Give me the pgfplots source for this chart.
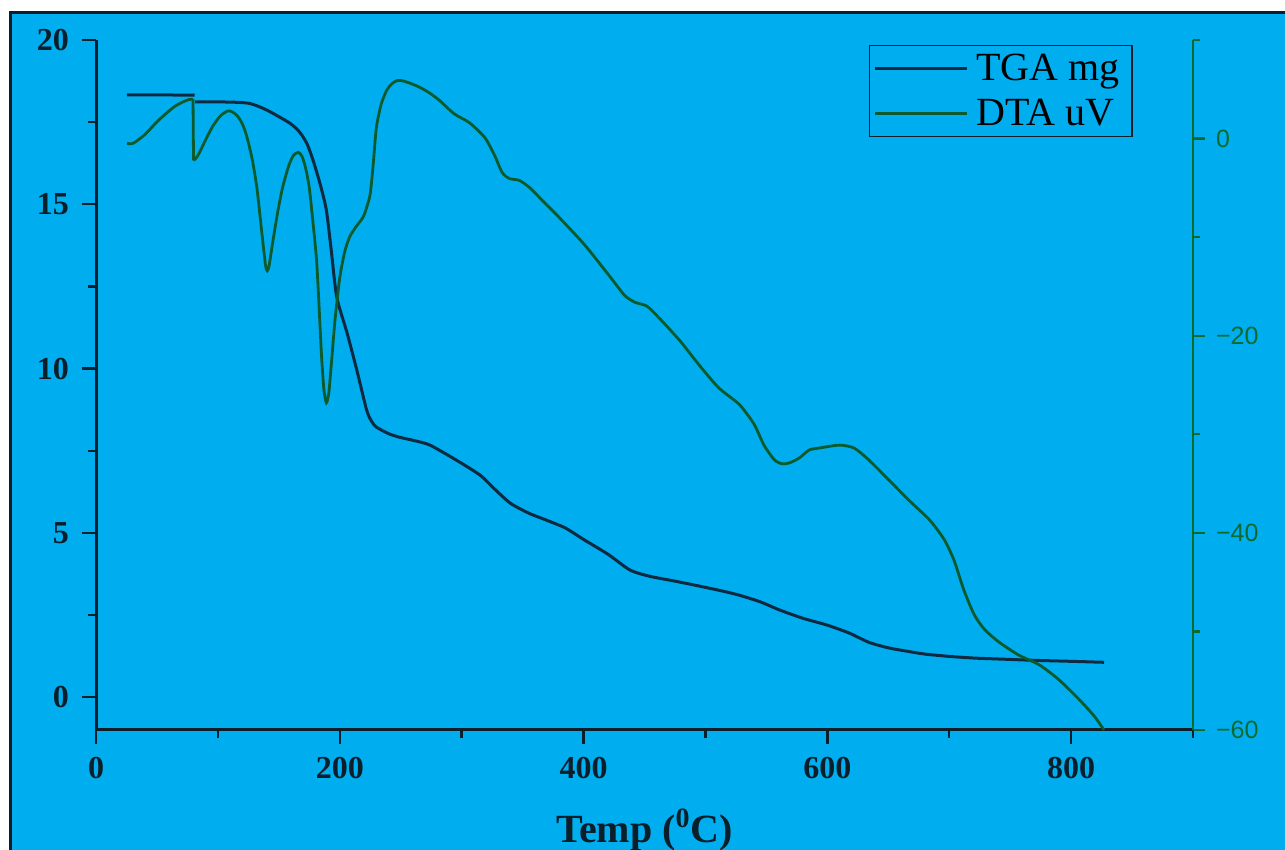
\documentclass[border=0pt]{standalone}
\usepackage{fontspec}
\setmainfont{Liberation Serif}
\newfontfamily\arialfont{Liberation Sans}
\usepackage{pgfplots}
\pgfplotsset{compat=1.18}
\definecolor{bgCyan}{HTML}{00AEEF}
\definecolor{frameInk}{HTML}{0A1F2A}
\definecolor{tgaInk}{HTML}{0E2A40}
\definecolor{dtaGreen}{HTML}{0D5A2C}
\definecolor{axGreen}{HTML}{0B6A2E}

% TGA, before and after the small step at 81 C
\pgfplotstableread{
x y
25.4 18.33
50 18.33
81 18.32
}\tgaA
\pgfplotstableread{
x y
81.2 18.12
110 18.11
126 18.07
140 17.87
159 17.47
167 17.20
173 16.85
178 16.35
184 15.60
189 14.82
193 13.60
197.5 12.18
206 11.08
214 9.95
222 8.74
226 8.40
230 8.22
240 8.02
249 7.91
262 7.80
274 7.67
294 7.25
315 6.76
328 6.30
340 5.90
355 5.60
370 5.38
385 5.15
400 4.80
420 4.35
438 3.87
454 3.68
475 3.53
495 3.38
515 3.22
528 3.10
545 2.90
561 2.65
580 2.40
600 2.19
618 1.95
634 1.67
650 1.50
665 1.40
680 1.31
700 1.24
720 1.19
741 1.16
770 1.12
800 1.09
827 1.06
}\tgaB

% DTA, before and after the sharp drop at 80 C
\pgfplotstableread{
x y
25.4 -0.50
30 -0.50
35 -0.10
40 0.40
44 0.90
50 1.70
58 2.60
65 3.30
71 3.70
76 3.95
79.5 4.00
}\dtaA
\pgfplotstableread{
x y
79.6 4.00
80 -2.20
}\dtaStep
\pgfplotstableread{
x y
80 -2.20
82 -2.00
85 -1.40
90 -0.10
96 1.30
102 2.30
108 2.80
112 2.70
116 2.30
120 1.50
123.5 0.30
128 -2.00
132 -5.00
136 -9.50
139 -12.80
140.5 -13.40
142 -12.90
145 -10.50
149 -7.50
153 -5.00
158 -2.80
162 -1.70
166 -1.40
169 -1.80
172 -3.00
175 -5.00
178 -8.50
181 -12.40
183 -17.00
185 -22.00
187 -25.50
189 -26.80
191 -25.80
193 -23.00
196 -18.50
200 -14.10
204 -11.50
208 -10.00
213 -9.00
219 -8.00
222 -7.00
225 -5.60
227.5 -2.50
230 1.10
234 3.50
238.5 4.90
243 5.60
247.5 5.90
252 5.85
258 5.60
265.6 5.20
274 4.60
282 3.85
294 2.50
306.5 1.60
319 0.10
327 -1.70
333 -3.40
339 -4.05
347.5 -4.25
356 -5.00
364 -6.00
380 -8.00
401 -10.80
421 -13.90
433.6 -15.90
442 -16.60
452 -17.00
462 -18.20
479 -20.50
495 -23.00
511 -25.30
528 -27.00
540 -29.00
548 -31.10
556.6 -32.60
563 -33.00
569 -32.90
577 -32.40
585 -31.60
593 -31.40
610 -31.10
622 -31.40
634 -32.60
651 -34.70
667 -36.70
684 -38.70
696 -40.70
704 -42.80
712 -45.80
720.5 -48.30
729 -49.80
741 -51.10
757 -52.40
774 -53.40
790 -54.90
806.6 -56.90
819 -58.60
827 -60.00
}\dtaB

\begin{document}
\begin{tikzpicture}
  \useasboundingbox (0,0) rectangle (642.5pt,425pt);
  \fill[white] (0,0) rectangle (642.5pt,425pt);
  \fill[bgCyan] (5pt,0) rectangle (642.5pt,418.5pt);
  \draw[frameInk, line width=1.5pt] (5pt,0) -- (5pt,418.5pt) -- (642.5pt,418.5pt);

  \begin{axis}[
    at={(48pt,60pt)}, anchor=south west,
    scale only axis, width=548.5pt, height=345pt,
    xmin=0, xmax=900, ymin=-1, ymax=20,
    axis x line*=bottom, axis y line*=left,
    axis line style={draw=frameInk, line width=1.5pt},
    tick style={draw=frameInk, line width=1.2pt},
    tick align=outside,
    major tick length=7pt, minor tick length=4pt,
    xtick={0,200,...,800}, minor xtick={100,300,500,700,900},
    ytick={0,5,...,20}, minor ytick={2.5,7.5,12.5,17.5},
    /pgf/number format/assume math mode=true,
    ticklabel style={font=\fontsize{16}{16}\selectfont\bfseries, text=frameInk},
    xticklabel style={yshift=-3pt},
    yticklabel style={xshift=-3pt},
    xlabel={Temp (\textsuperscript{0}C)},
    xlabel style={at={(axis description cs:0.5,0)}, anchor=center, yshift=-50pt,
      font=\fontsize{20}{20}\selectfont\bfseries, text=frameInk},
    clip=false
  ]
    \addplot[tgaInk, line width=1.5pt, no markers] table[x=x,y=y] {\tgaA};
    \addplot[tgaInk, line width=1.5pt, no markers, smooth, tension=0.4] table[x=x,y=y] {\tgaB};
  \end{axis}

  \begin{axis}[
    at={(48pt,60pt)}, anchor=south west,
    scale only axis, width=548.5pt, height=345pt,
    xmin=0, xmax=900, ymin=-60, ymax=10,
    axis x line=none, axis y line*=right,
    axis line style={draw=axGreen, line width=1.2pt},
    tick style={draw=axGreen, line width=1.2pt},
    tick align=outside,
    major tick length=6pt, minor tick length=3.5pt,
    ytick={-60,-40,-20,0}, yticklabels={−60,−40,−20,0},
    minor ytick={-50,-30,-10,10},
    ticklabel style={font=\arialfont\fontsize{12.5}{12.5}\selectfont, text=axGreen},
    yticklabel style={xshift=2pt},
    legend style={at={(0.945,0.993)}, anchor=north east,
      draw=frameInk, line width=0.8pt, fill=none,
      font=\fontsize{20}{22}\selectfont, text=black,
      inner xsep=2pt, inner ysep=2pt, row sep=4pt,
      nodes={inner xsep=4pt}},
    legend cell align=left,
    legend image code/.code={\draw[#1] (0pt,0pt) -- (46pt,0pt);},
    clip=false
  ]
    \addlegendimage{tgaInk, line width=1.5pt}
    \addlegendentry{TGA mg}
    \addplot[dtaGreen, line width=1.4pt, no markers, smooth, tension=0.4] table[x=x,y=y] {\dtaA};
    \addlegendentry{DTA uV}
    \addplot[dtaGreen, line width=1.4pt, no markers, forget plot] table[x=x,y=y] {\dtaStep};
    \addplot[dtaGreen, line width=1.4pt, no markers, smooth, tension=0.4, forget plot] table[x=x,y=y] {\dtaB};
  \end{axis}
\end{tikzpicture}
\end{document}
